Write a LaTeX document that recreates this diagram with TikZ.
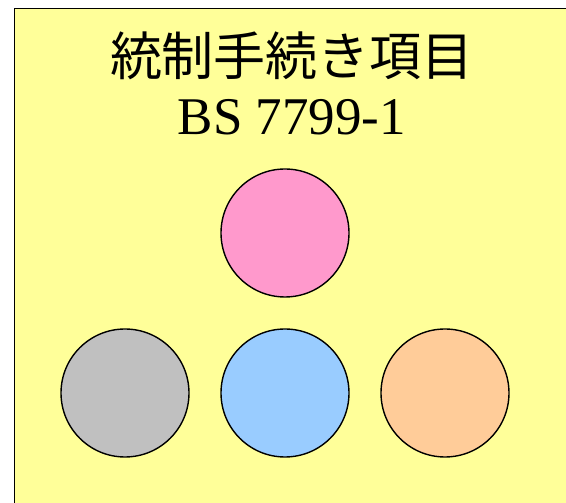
\documentclass[tikz,border=0pt]{standalone}
\usepackage{fontspec}
\setmainfont{Liberation Serif}
\newfontfamily\cjk{Noto Sans CJK JP}
\definecolor{bgY}{HTML}{FFFF99}
\definecolor{cPink}{HTML}{FF99CC}
\definecolor{cGray}{HTML}{C0C0C0}
\definecolor{cBlue}{HTML}{99CCFF}
\definecolor{cOrange}{HTML}{FFCC99}
\begin{document}
\begin{tikzpicture}[x=1pt,y=1pt,
  ball/.style={circle,draw=black,line width=1.4pt,minimum size=128pt,inner sep=0pt}]
\useasboundingbox (0,0) rectangle (566,503);
\clip (0,0) rectangle (566,503);
\fill[white] (0,0) rectangle (566,503);
\draw[fill=bgY,line width=1.8pt] (14.5,-10) rectangle (580,494.5);
\node[font=\cjk\fontsize{52}{52}\selectfont,anchor=base] (t1) at (292,427) {統制手続き項目};
\node[font=\fontsize{53}{53}\selectfont,anchor=base] (t2) at (292,368) {BS 7799-1};
\node[ball,fill=cPink] (p) at (285,270) {};
\node[ball,fill=cGray] (g) at (125,110) {};
\node[ball,fill=cBlue] (b) at (285,110) {};
\node[ball,fill=cOrange] (o) at (445,110) {};
\end{tikzpicture}
\end{document}
